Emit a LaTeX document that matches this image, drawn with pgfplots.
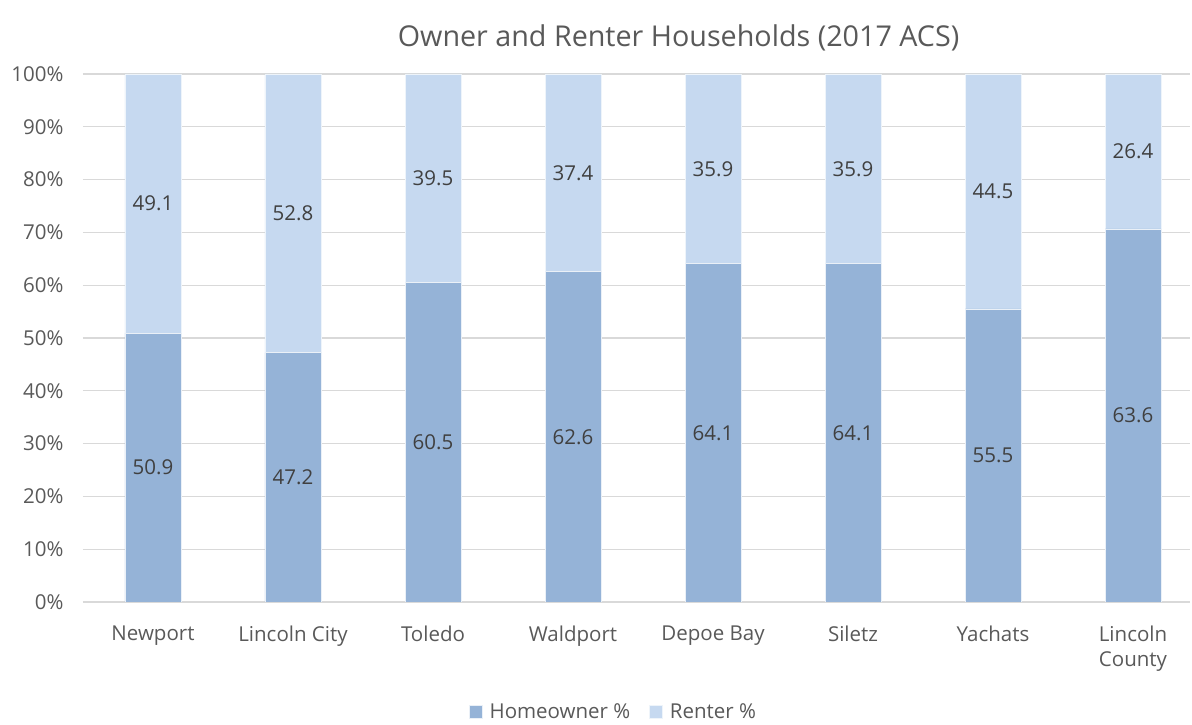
\documentclass[border=0pt]{standalone}
\usepackage{pgfplots}
\usepackage{pgfplotstable}
\usepackage{fontspec}
\setmainfont{Open Sans}
\pgfplotsset{compat=1.18}
\definecolor{own}{HTML}{95B3D7}
\definecolor{rent}{HTML}{C6D9F0}
\definecolor{gridc}{HTML}{D9D9D9}
\definecolor{txt}{HTML}{595959}
\definecolor{lab}{HTML}{404040}
\pgfplotstableread{
x own rent ownc rentc ownlab rentlab
0 50.9 49.1 25.45 75.45 50.9 49.1
1 47.2 52.8 23.6 73.6 47.2 52.8
2 60.5 39.5 30.25 80.25 60.5 39.5
3 62.6 37.4 31.3 81.3 62.6 37.4
4 64.1 35.9 32.05 82.05 64.1 35.9
5 64.1 35.9 32.05 82.05 64.1 35.9
6 55.5 44.5 27.75 77.75 55.5 44.5
7 70.67 29.33 35.33 85.33 63.6 26.4
}\datatable
\newcommand{\fs}{\fontsize{20.5}{25}\selectfont}
\pgfplotsset{
  common/.style={
    at={(0,0)}, anchor=south west,
    scale only axis, width=1107pt, height=528pt,
    xmin=-0.5, xmax=7.407, ymin=0, ymax=100,
    /pgf/number format/assume math mode=true,
  }
}
\begin{document}
\begin{tikzpicture}
\useasboundingbox (-83pt,-123pt) rectangle (1109pt,602pt);
\begin{axis}[common,
  ybar stacked, bar width=56pt,
  axis line style={draw=none},
  ymajorgrids, grid style={gridc, line width=1.2pt},
  major tick length=0pt,
  ytick={0,10,...,100},
  yticklabel={\pgfmathprintnumber{\tick}\%},
  yticklabel style={font=\fs, text=txt, xshift=-16pt},
  xtick=data,
  xticklabels={Newport,Lincoln City,Toledo,Waldport,Depoe Bay,Siletz,Yachats,{Lincoln\\County}},
  xticklabel style={font=\fs, text=txt, align=center, yshift=-20pt},
  title={Owner and Renter Households (2017 ACS)},
  title style={font=\fontsize{28.7}{34}\selectfont, text=txt, at={(0.538,1.058)}, anchor=center},
  legend style={draw=none, at={(0.4815,-0.208)}, anchor=center, font=\fs, text=txt,
    legend columns=2, nodes={inner xsep=7pt}, /tikz/every even column/.append style={column sep=12pt}},
  legend image code/.code={\fill[#1] (0pt,-6pt) rectangle (13pt,7pt);},
]
\addplot[fill=own, draw=white!80!own, line width=0.6pt] table[x=x, y=own] {\datatable};
\addlegendentry{Homeowner \%}
\addplot[fill=rent, draw=white!70!rent, line width=0.6pt] table[x=x, y=rent] {\datatable};
\addlegendentry{Renter \%}
\end{axis}
\begin{axis}[common, hide axis,
  nodes near coords, point meta=explicit symbolic,
  every node near coord/.style={anchor=center, font=\fs, text=lab}]
\addplot[only marks, mark=none] table[x=x, y=ownc, meta=ownlab] {\datatable};
\addplot[only marks, mark=none] table[x=x, y=rentc, meta=rentlab] {\datatable};
\end{axis}
\end{tikzpicture}
\end{document}
